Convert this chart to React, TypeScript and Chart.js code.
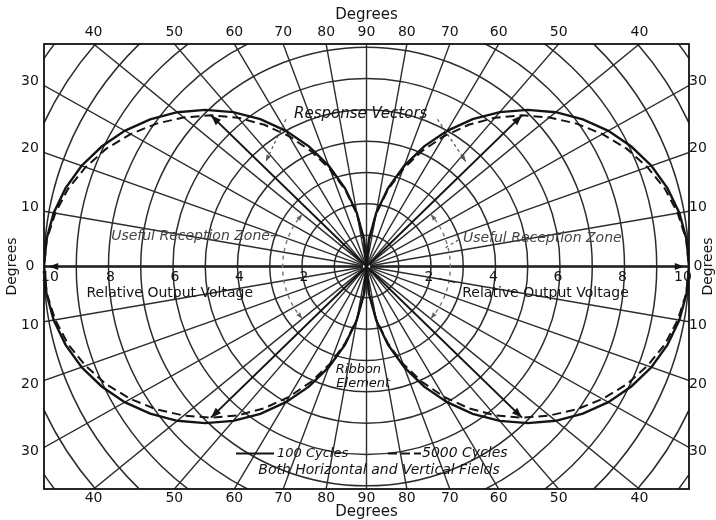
import React, { useEffect, useRef } from "react";
import { Chart, registerables } from "chart.js";

Chart.register(...registerables);

// ---- data (angle from the horizontal axis, degrees) ----
const angles = [0, 5, 10, 15, 20, 25, 30, 35, 40, 45, 50, 55, 60, 65, 70, 75, 80, 85, 90];
// relative output voltage, 100 cycles
const cycles100 = [10, 9.96, 9.85, 9.66, 9.4, 9.06, 8.66, 8.19, 7.66, 7.07, 6.43, 5.74, 5.0, 4.23, 3.42, 2.59, 1.74, 0.87, 0];
// relative output voltage, 5000 cycles
const cycles5000 = [10, 9.95, 9.8, 9.58, 9.27, 8.9, 8.45, 7.95, 7.4, 6.82, 6.2, 5.52, 4.8, 4.06, 3.3, 2.52, 1.7, 0.85, 0];

// grid
const gridRadii = [1, 2, 3, 4, 5, 6, 7, 8, 9, 10, 11, 12, 13];
const radialAngles = [0, 10, 20, 30, 40, 50, 60, 70, 80, 90, 100, 110, 120, 130, 140, 150, 160, 170, 180, 190, 200, 210, 220, 230, 240, 250, 260, 270, 280, 290, 300, 310, 320, 330, 340, 350];
const topDegreeTicks = [40, 50, 60, 70, 80, 90];
const sideDegreeTicks = [0, 10, 20, 30];
const voltageTicks = [2, 4, 6, 8, 10];
const vectorAngles = [45, 135, 225, 315];
const zoneRadius = 2.6;
const zoneHalfAngle = 40;

const X_MIN = -10, X_MAX = 10, Y_MIN = -7.1, Y_MAX = 7.1;
const INK = "#141414";
const GRID = "#2c2c2c";
const FONT = "'DejaVu Sans', 'Liberation Sans', sans-serif";

const rad = (d: number) => (d * Math.PI) / 180;

function lobe(values: number[], side: 1 | -1) {
  const pts: { x: number; y: number }[] = [];
  for (let i = angles.length - 1; i >= 0; i--) {
    const t = rad(angles[i]);
    pts.push({ x: side * values[i] * Math.cos(t), y: values[i] * Math.sin(t) });
  }
  for (let i = 1; i < angles.length; i++) {
    const t = rad(angles[i]);
    pts.push({ x: side * values[i] * Math.cos(t), y: -values[i] * Math.sin(t) });
  }
  return pts;
}

function valueAt(values: number[], deg: number) {
  let a = ((deg % 360) + 360) % 360;
  if (a > 180) a = 360 - a;
  if (a > 90) a = 180 - a;
  return values[angles.indexOf(a)];
}

function arrowHead(ctx: CanvasRenderingContext2D, fx: number, fy: number, tx: number, ty: number, size: number) {
  const ang = Math.atan2(ty - fy, tx - fx);
  ctx.beginPath();
  ctx.moveTo(tx, ty);
  ctx.lineTo(tx - size * Math.cos(ang - 0.35), ty - size * Math.sin(ang - 0.35));
  ctx.lineTo(tx - size * Math.cos(ang + 0.35), ty - size * Math.sin(ang + 0.35));
  ctx.closePath();
  ctx.fill();
}

const gridPlugin = {
  id: "polarGrid",
  beforeDatasetsDraw(chart: any) {
    const { ctx, chartArea: a, scales } = chart;
    const sx = scales.x, sy = scales.y;
    const px = (v: number) => sx.getPixelForValue(v);
    const py = (v: number) => sy.getPixelForValue(v);
    const cx = px(0), cy = py(0);
    const ux = px(1) - cx, uy = cy - py(1);
    ctx.save();
    ctx.fillStyle = "#fff";
    ctx.fillRect(a.left, a.top, a.width, a.height);
    ctx.beginPath();
    ctx.rect(a.left, a.top, a.width, a.height);
    ctx.clip();
    ctx.strokeStyle = GRID;
    ctx.lineWidth = 1.5;
    for (const r of gridRadii) {
      ctx.beginPath();
      ctx.ellipse(cx, cy, r * ux, r * uy, 0, 0, Math.PI * 2);
      ctx.stroke();
    }
    ctx.beginPath();
    ctx.ellipse(cx, cy, 0.13 * ux, 0.13 * uy, 0, 0, Math.PI * 2);
    ctx.stroke();
    ctx.lineWidth = 1.4;
    for (const d of radialAngles) {
      const t = rad(d);
      ctx.beginPath();
      ctx.moveTo(px(0.13 * Math.cos(t)), py(0.13 * Math.sin(t)));
      ctx.lineTo(px(15 * Math.cos(t)), py(15 * Math.sin(t)));
      ctx.stroke();
    }
    // horizontal axis heavier
    ctx.strokeStyle = "#222";
    ctx.lineWidth = 2.6;
    ctx.beginPath();
    ctx.moveTo(px(X_MIN), cy);
    ctx.lineTo(px(-0.13), cy);
    ctx.moveTo(px(0.13), cy);
    ctx.lineTo(px(X_MAX), cy);
    ctx.stroke();

    // useful reception zone arcs (dashed, grey)
    ctx.strokeStyle = "#777";
    ctx.fillStyle = "#666";
    ctx.lineWidth = 1.4;
    ctx.setLineDash([4, 4]);
    for (const side of [1, -1]) {
      ctx.beginPath();
      for (let d = -zoneHalfAngle; d <= zoneHalfAngle; d += 2) {
        const t = rad(d);
        const X = px(side * zoneRadius * Math.cos(t)), Y = py(zoneRadius * Math.sin(t));
        if (d === -zoneHalfAngle) ctx.moveTo(X, Y); else ctx.lineTo(X, Y);
      }
      ctx.stroke();
    }
    ctx.setLineDash([]);
    for (const side of [1, -1]) {
      for (const s of [1, -1]) {
        const t1 = rad(s * (zoneHalfAngle - 6)), t2 = rad(s * zoneHalfAngle);
        arrowHead(ctx,
          px(side * zoneRadius * Math.cos(t1)), py(zoneRadius * Math.sin(t1)),
          px(side * zoneRadius * Math.cos(t2)), py(zoneRadius * Math.sin(t2)), 7);
      }
    }
    ctx.restore();
  },
  afterDatasetsDraw(chart: any) {
    const { ctx, chartArea: a, scales } = chart;
    const sx = scales.x, sy = scales.y;
    const px = (v: number) => sx.getPixelForValue(v);
    const py = (v: number) => sy.getPixelForValue(v);
    const cx = px(0), cy = py(0);
    ctx.save();
    ctx.fillStyle = INK;
    // response vector arrowheads
    for (const d of vectorAngles) {
      const r = valueAt(cycles5000, d);
      const t = rad(d);
      arrowHead(ctx, cx, cy, px(r * Math.cos(t)), py(r * Math.sin(t)), 11);
    }
    // axis arrowheads
    arrowHead(ctx, px(8), cy, px(9.85), cy, 10);
    arrowHead(ctx, px(-8), cy, px(-9.85), cy, 10);
    // frame
    ctx.strokeStyle = "#111";
    ctx.lineWidth = 1.8;
    ctx.strokeRect(a.left, a.top, a.width, a.height);
    ctx.restore();
  },
  afterDraw(chart: any) {
    const { ctx, chartArea: a, scales } = chart;
    const sx = scales.x, sy = scales.y;
    const px = (v: number) => sx.getPixelForValue(v);
    const py = (v: number) => sy.getPixelForValue(v);
    const cx = px(0), cy = py(0);
    ctx.save();
    ctx.fillStyle = INK;
    ctx.textAlign = "center";
    ctx.textBaseline = "middle";

    // top / bottom degree ticks
    ctx.font = `14px ${FONT}`;
    for (const d of topDegreeTicks) {
      const dx = d === 90 ? 0 : Y_MAX / Math.tan(rad(d));
      for (const s of d === 90 ? [1] : [1, -1]) {
        ctx.fillText(String(d), px(s * dx), a.top - 12);
        ctx.fillText(String(d), px(s * dx), a.bottom + 9);
      }
    }
    ctx.font = `15px ${FONT}`;
    ctx.fillText("Degrees", cx, a.top - 29);
    ctx.fillText("Degrees", cx, a.bottom + 23);

    // side degree ticks
    ctx.font = `14px ${FONT}`;
    for (const d of sideDegreeTicks) {
      const dy = X_MAX * Math.tan(rad(d));
      for (const s of d === 0 ? [1] : [1, -1]) {
        ctx.fillText(String(d), a.left - 14, py(s * dy) + (d === 0 ? 0 : s * -4));
        ctx.fillText(String(d), a.right + 9, py(s * dy) + (d === 0 ? 0 : s * -4));
      }
    }
    ctx.font = `14px ${FONT}`;
    for (const xx of [a.left - 32, a.right + 19]) {
      ctx.save();
      ctx.translate(xx, cy);
      ctx.rotate(-Math.PI / 2);
      ctx.fillText("Degrees", 0, 0);
      ctx.restore();
    }

    // voltage ticks along the axis
    ctx.font = `14px ${FONT}`;
    for (const v of voltageTicks) {
      const off = v === 10 ? 6 : 2;
      ctx.fillText(String(v), px(-v) + off, cy + 11);
      ctx.fillText(String(v), px(v) - off, cy + 11);
    }
    ctx.font = `14px ${FONT}`;
    ctx.fillText("Relative Output Voltage", px(-6.1), cy + 27);
    ctx.fillText("Relative Output Voltage", px(5.55), cy + 27);
    // leader from right "2"
    ctx.strokeStyle = INK;
    ctx.lineWidth = 1.2;
    ctx.beginPath();
    ctx.moveTo(px(2) + 8, cy + 12);
    ctx.lineTo(px(2) + 24, cy + 16);
    ctx.stroke();

    // italic annotations
    ctx.font = `italic 15px ${FONT}`;
    ctx.fillText("Response Vectors", px(-0.18), py(4.85));
    ctx.fillStyle = "#444";
    ctx.font = `italic 14px ${FONT}`;
    ctx.fillText("Useful Reception Zone--", px(-5.3), py(0.95));
    ctx.fillText("Useful Reception Zone", px(5.45), py(0.9));
    // leader into the right-hand zone arc
    ctx.strokeStyle = "#555";
    ctx.lineWidth = 1.2;
    ctx.setLineDash([3, 3]);
    ctx.beginPath();
    ctx.moveTo(px(2.85), py(0.85));
    ctx.lineTo(px(2.45), py(0.6));
    ctx.stroke();
    ctx.setLineDash([]);
    ctx.fillStyle = INK;
    ctx.font = `italic 13px ${FONT}`;
    ctx.fillText("Ribbon", px(-0.25), py(-3.3));
    ctx.fillText("Element", px(-0.1), py(-3.73));

    // response vector leaders
    ctx.strokeStyle = "#555";
    ctx.fillStyle = "#555";
    ctx.lineWidth = 1.2;
    ctx.setLineDash([3, 3]);
    const leaders: [number, number, number, number][] = [
      [px(-2.5), py(4.7), px(-3.12), py(3.35)],
      [px(2.2), py(4.7), px(3.08), py(3.35)],
    ];
    for (const [x1, y1, x2, y2] of leaders) {
      ctx.beginPath();
      ctx.moveTo(x1, y1);
      ctx.lineTo(x2, y2);
      ctx.stroke();
    }
    ctx.setLineDash([]);
    for (const [x1, y1, x2, y2] of leaders) arrowHead(ctx, x1, y1, x2, y2, 7);

    // legend
    ctx.fillStyle = INK;
    ctx.strokeStyle = INK;
    ctx.lineWidth = 2;
    const ly = py(-5.97);
    ctx.beginPath();
    ctx.moveTo(236, ly);
    ctx.lineTo(274, ly);
    ctx.stroke();
    ctx.setLineDash([9, 4]);
    ctx.beginPath();
    ctx.moveTo(388, ly);
    ctx.lineTo(421, ly);
    ctx.stroke();
    ctx.setLineDash([]);
    ctx.textAlign = "left";
    ctx.font = `italic 13px ${FONT}`;
    ctx.fillText("100 Cycles", 277, ly);
    ctx.font = `italic 14px ${FONT}`;
    ctx.fillText("5000 Cycles", 422, ly);
    ctx.textAlign = "center";
    ctx.font = `italic 14px ${FONT}`;
    ctx.fillText("Both Horizontal and Vertical Fields", 379, ly + 17);
    ctx.restore();
  },
};

export default function App() {
  const ref = useRef<HTMLCanvasElement | null>(null);
  useEffect(() => {
    if (!ref.current) return;
    const line = (data: { x: number; y: number }[], dash: number[], width: number) => ({
      data,
      showLine: true,
      borderColor: INK,
      borderWidth: width,
      borderDash: dash,
      pointRadius: 0,
      tension: 0,
      fill: false,
    });
    const vectors = vectorAngles.map((d) => {
      const r = valueAt(cycles5000, d);
      const t = rad(d);
      return line([{ x: 0, y: 0 }, { x: r * Math.cos(t), y: r * Math.sin(t) }], [], 2);
    });
    const chart = new Chart(ref.current, {
      type: "scatter",
      data: {
        datasets: [
          line(lobe(cycles100, 1), [], 2.4),
          line(lobe(cycles100, -1), [], 2.4),
          line(lobe(cycles5000, 1), [9, 5], 2),
          line(lobe(cycles5000, -1), [9, 5], 2),
          ...vectors,
        ] as any,
      },
      options: {
        animation: false,
        responsive: false,
        devicePixelRatio: 1,
        layout: { padding: { left: 44, right: 27, top: 44, bottom: 31 } },
        scales: {
          x: { type: "linear", min: X_MIN, max: X_MAX, display: false },
          y: { type: "linear", min: Y_MIN, max: Y_MAX, display: false },
        },
        plugins: { legend: { display: false }, tooltip: { enabled: false } },
      },
      plugins: [gridPlugin],
    });
    return () => chart.destroy();
  }, []);
  return (
    <div style={{ position: "fixed", left: 0, top: 0, width: 716, height: 520, background: "#fff" }}>
      <canvas ref={ref} width={716} height={520} style={{ display: "block" }} />
    </div>
  );
}
